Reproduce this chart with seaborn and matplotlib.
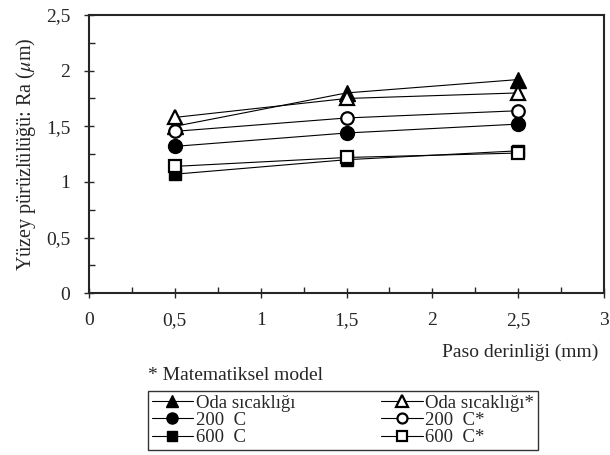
import matplotlib
matplotlib.use("Agg")
import matplotlib.pyplot as plt
from matplotlib.ticker import MultipleLocator, FuncFormatter
import seaborn as sns

sns.set_style("ticks")
plt.rcParams['font.family'] = ['Liberation Serif', 'DejaVu Serif']
plt.rcParams['mathtext.fontset'] = 'stix'

# Paso derinliği (mm)
depth = [0.5, 1.5, 2.5]

# measured
oda = [1.50, 1.80, 1.92]
c200 = [1.32, 1.44, 1.52]
c600 = [1.07, 1.20, 1.28]
# mathematical model (*)
oda_m = [1.58, 1.75, 1.80]
c200_m = [1.455, 1.575, 1.64]
c600_m = [1.14, 1.22, 1.26]

labels = ["Oda sıcaklığı", "200  C", "600  C",
          "Oda sıcaklığı*", "200  C*", "600  C*"]
series = [oda, c200, c600, oda_m, c200_m, c600_m]
markers = ['^', 'o', 's', '^', 'o', 's']
msizes = [11, 10, 9, 10, 9, 8.5]
filled = [True, True, True, False, False, False]

fig = plt.figure(figsize=(6.1, 4.55), dpi=100)
ax = fig.add_axes([89 / 610, 1 - 293.3 / 455, (604 - 89) / 610, (293.3 - 15) / 455])

for vals, lab, mk, ms, fl in zip(series, labels, markers, msizes, filled):
    sns.lineplot(x=depth, y=vals, ax=ax, color='black', lw=0.8,
                 marker=mk, markersize=ms,
                 markerfacecolor='black' if fl else 'white',
                 markeredgecolor='black', markeredgewidth=1.6 if not fl else 1,
                 label=lab, legend=False)

ax.set_xlim(0, 3)
ax.set_ylim(0, 2.5)
ax.xaxis.set_major_locator(MultipleLocator(0.5))
ax.xaxis.set_minor_locator(MultipleLocator(0.25))
ax.yaxis.set_major_locator(MultipleLocator(0.5))
ax.yaxis.set_minor_locator(MultipleLocator(0.25))
fmt = FuncFormatter(lambda v, p: ('%g' % v).replace('.', ','))
ax.xaxis.set_major_formatter(fmt)
ax.yaxis.set_major_formatter(fmt)
ax.tick_params(which='major', direction='inout', length=7, width=1, labelsize=14, pad=10)
ax.tick_params(which='minor', direction='in', length=4, width=1)
for s in ax.spines.values():
    s.set_linewidth(1.5)
    s.set_visible(True)

ax.set_ylabel(r"Yüzey pürüzlülüğü: Ra ($\mu$m)", fontsize=14.5, labelpad=6)
fig.text(598 / 610, 1 - 352 / 455, "Paso derinliği (mm)", ha='right', va='center', fontsize=14)
fig.text(148 / 610, 1 - 375 / 455, "* Matematiksel model", ha='left', va='center', fontsize=14)

handles, labs = ax.get_legend_handles_labels()
leg = fig.legend(handles, labs, ncol=2, loc='upper left',
                 bbox_to_anchor=(148 / 610, 1 - 391 / 455, (538 - 148) / 610, 0),
                 mode='expand', frameon=True, fancybox=False, edgecolor='black',
                 fontsize=13.5, labelspacing=0.0, handlelength=2.2, handletextpad=0.15,
                 borderpad=0.2, columnspacing=1.0, borderaxespad=0, markerscale=0.8)
leg.get_frame().set_linewidth(1.0)

fig.savefig("out.png", dpi=100)
